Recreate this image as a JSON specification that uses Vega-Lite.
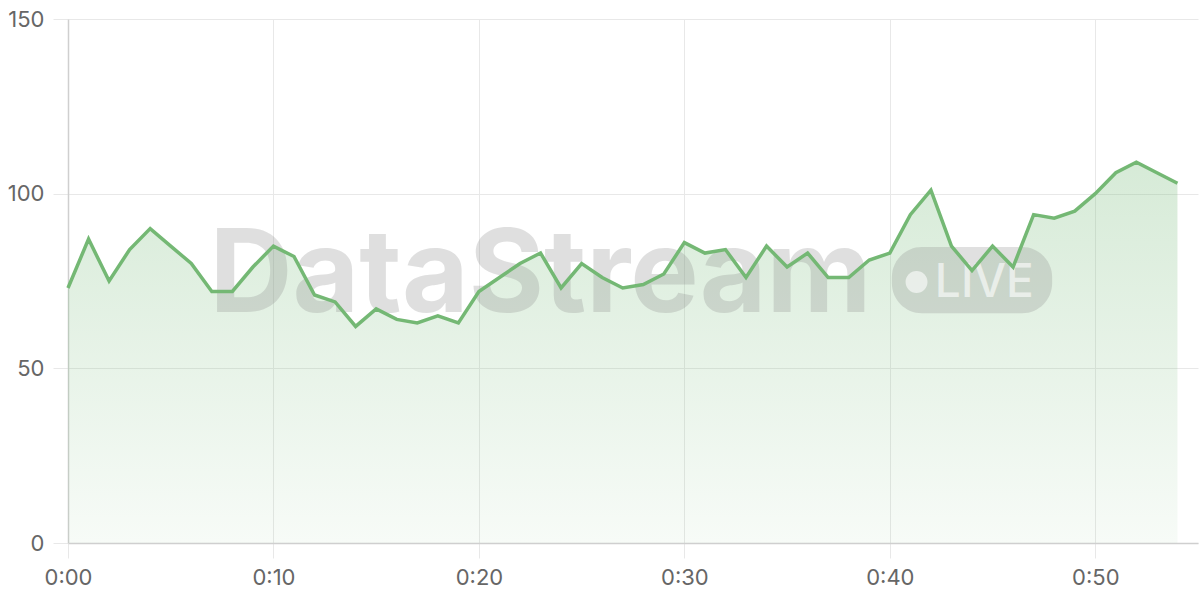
{
  "$schema": "https://vega.github.io/schema/vega-lite/v6.json",
  "width": 1130,
  "height": 524,
  "autosize": {"type": "none"},
  "padding": {"left": 68, "top": 19, "right": 2, "bottom": 57},
  "background": "white",
  "config": {
    "view": {"stroke": null},
    "font": "Inter",
    "axis": {
      "labelFont": "Inter",
      "labelFontSize": 22,
      "labelColor": "#666666",
      "gridColor": "#e8e8e8",
      "gridWidth": 1,
      "tickColor": "#e8e8e8",
      "tickSize": 15,
      "domainColor": "#cfcfcf",
      "domainWidth": 1.5,
      "labelFlush": false,
      "title": null
    }
  },
  "datasets": {
    "series": [
      {"minute": 0, "value": 73}, {"minute": 1, "value": 87}, {"minute": 2, "value": 75},
      {"minute": 3, "value": 84}, {"minute": 4, "value": 90}, {"minute": 5, "value": 85},
      {"minute": 6, "value": 80}, {"minute": 7, "value": 72}, {"minute": 8, "value": 72},
      {"minute": 9, "value": 79}, {"minute": 10, "value": 85}, {"minute": 11, "value": 82},
      {"minute": 12, "value": 71}, {"minute": 13, "value": 69}, {"minute": 14, "value": 62},
      {"minute": 15, "value": 67}, {"minute": 16, "value": 64}, {"minute": 17, "value": 63},
      {"minute": 18, "value": 65}, {"minute": 19, "value": 63}, {"minute": 20, "value": 72},
      {"minute": 21, "value": 76}, {"minute": 22, "value": 80}, {"minute": 23, "value": 83},
      {"minute": 24, "value": 73}, {"minute": 25, "value": 80}, {"minute": 26, "value": 76},
      {"minute": 27, "value": 73}, {"minute": 28, "value": 74}, {"minute": 29, "value": 77},
      {"minute": 30, "value": 86}, {"minute": 31, "value": 83}, {"minute": 32, "value": 84},
      {"minute": 33, "value": 76}, {"minute": 34, "value": 85}, {"minute": 35, "value": 79},
      {"minute": 36, "value": 83}, {"minute": 37, "value": 76}, {"minute": 38, "value": 76},
      {"minute": 39, "value": 81}, {"minute": 40, "value": 83}, {"minute": 41, "value": 94},
      {"minute": 42, "value": 101}, {"minute": 43, "value": 85}, {"minute": 44, "value": 78},
      {"minute": 45, "value": 85}, {"minute": 46, "value": 79}, {"minute": 47, "value": 94},
      {"minute": 48, "value": 93}, {"minute": 49, "value": 95}, {"minute": 50, "value": 100},
      {"minute": 51, "value": 106}, {"minute": 52, "value": 109}, {"minute": 53, "value": 106},
      {"minute": 54, "value": 103}
    ]
  },
  "layer": [
    {
      "data": {"name": "series"},
      "mark": {
        "type": "area",
        "color": {
          "gradient": "linear",
          "x1": 0, "y1": 0, "x2": 0, "y2": 1,
          "stops": [
            {"offset": 0, "color": "rgba(120,187,123,0.30)"},
            {"offset": 1, "color": "rgba(120,187,123,0.06)"}
          ]
        }
      },
      "encoding": {
        "x": {
          "field": "minute", "type": "quantitative",
          "scale": {"domain": [0, 55], "nice": false, "zero": false},
          "axis": {
            "values": [0, 10, 20, 30, 40, 50],
            "labelExpr": "'0:' + (datum.value < 10 ? '0' : '') + datum.value",
            "labelPadding": 9,
            "domain": true
          }
        },
        "y": {
          "field": "value", "type": "quantitative",
          "scale": {"domain": [0, 150], "nice": false},
          "axis": {
            "values": [0, 50, 100, 150],
            "labelPadding": 9,
            "domain": true
          }
        }
      }
    },
    {
      "data": {"values": [{}]},
      "mark": {"type": "text", "text": "DataStream", "font": "Inter", "fontWeight": "bold", "fontSize": 115, "align": "center", "baseline": "alphabetic", "color": "#888888", "opacity": 0.26},
      "encoding": {
        "x": {"datum": 23.0, "type": "quantitative"},
        "y": {"datum": 66.1, "type": "quantitative"}
      }
    },
    {
      "data": {"values": [{}]},
      "mark": {"type": "rect", "cornerRadius": 30, "color": "#888888", "opacity": 0.26},
      "encoding": {
        "x": {"datum": 40.1, "type": "quantitative"},
        "x2": {"datum": 47.9},
        "y": {"datum": 84.7, "type": "quantitative"},
        "y2": {"datum": 65.8}
      }
    },
    {
      "data": {"values": [{}]},
      "mark": {"type": "point", "shape": "circle", "filled": true, "size": 480, "color": "white", "opacity": 0.6},
      "encoding": {
        "x": {"datum": 41.3, "type": "quantitative"},
        "y": {"datum": 74.7, "type": "quantitative"}
      }
    },
    {
      "data": {"values": [{}]},
      "mark": {"type": "text", "text": "LIVE", "font": "Inter", "fontWeight": 500, "fontSize": 46, "align": "center", "baseline": "alphabetic", "color": "white", "opacity": 0.6},
      "encoding": {
        "x": {"datum": 44.6, "type": "quantitative"},
        "y": {"datum": 70.5, "type": "quantitative"}
      }
    },
    {
      "data": {"name": "series"},
      "mark": {"type": "line", "color": "#74b874", "strokeWidth": 3.5, "strokeJoin": "miter"},
      "encoding": {
        "x": {"field": "minute", "type": "quantitative"},
        "y": {"field": "value", "type": "quantitative"}
      }
    }
  ]
}
